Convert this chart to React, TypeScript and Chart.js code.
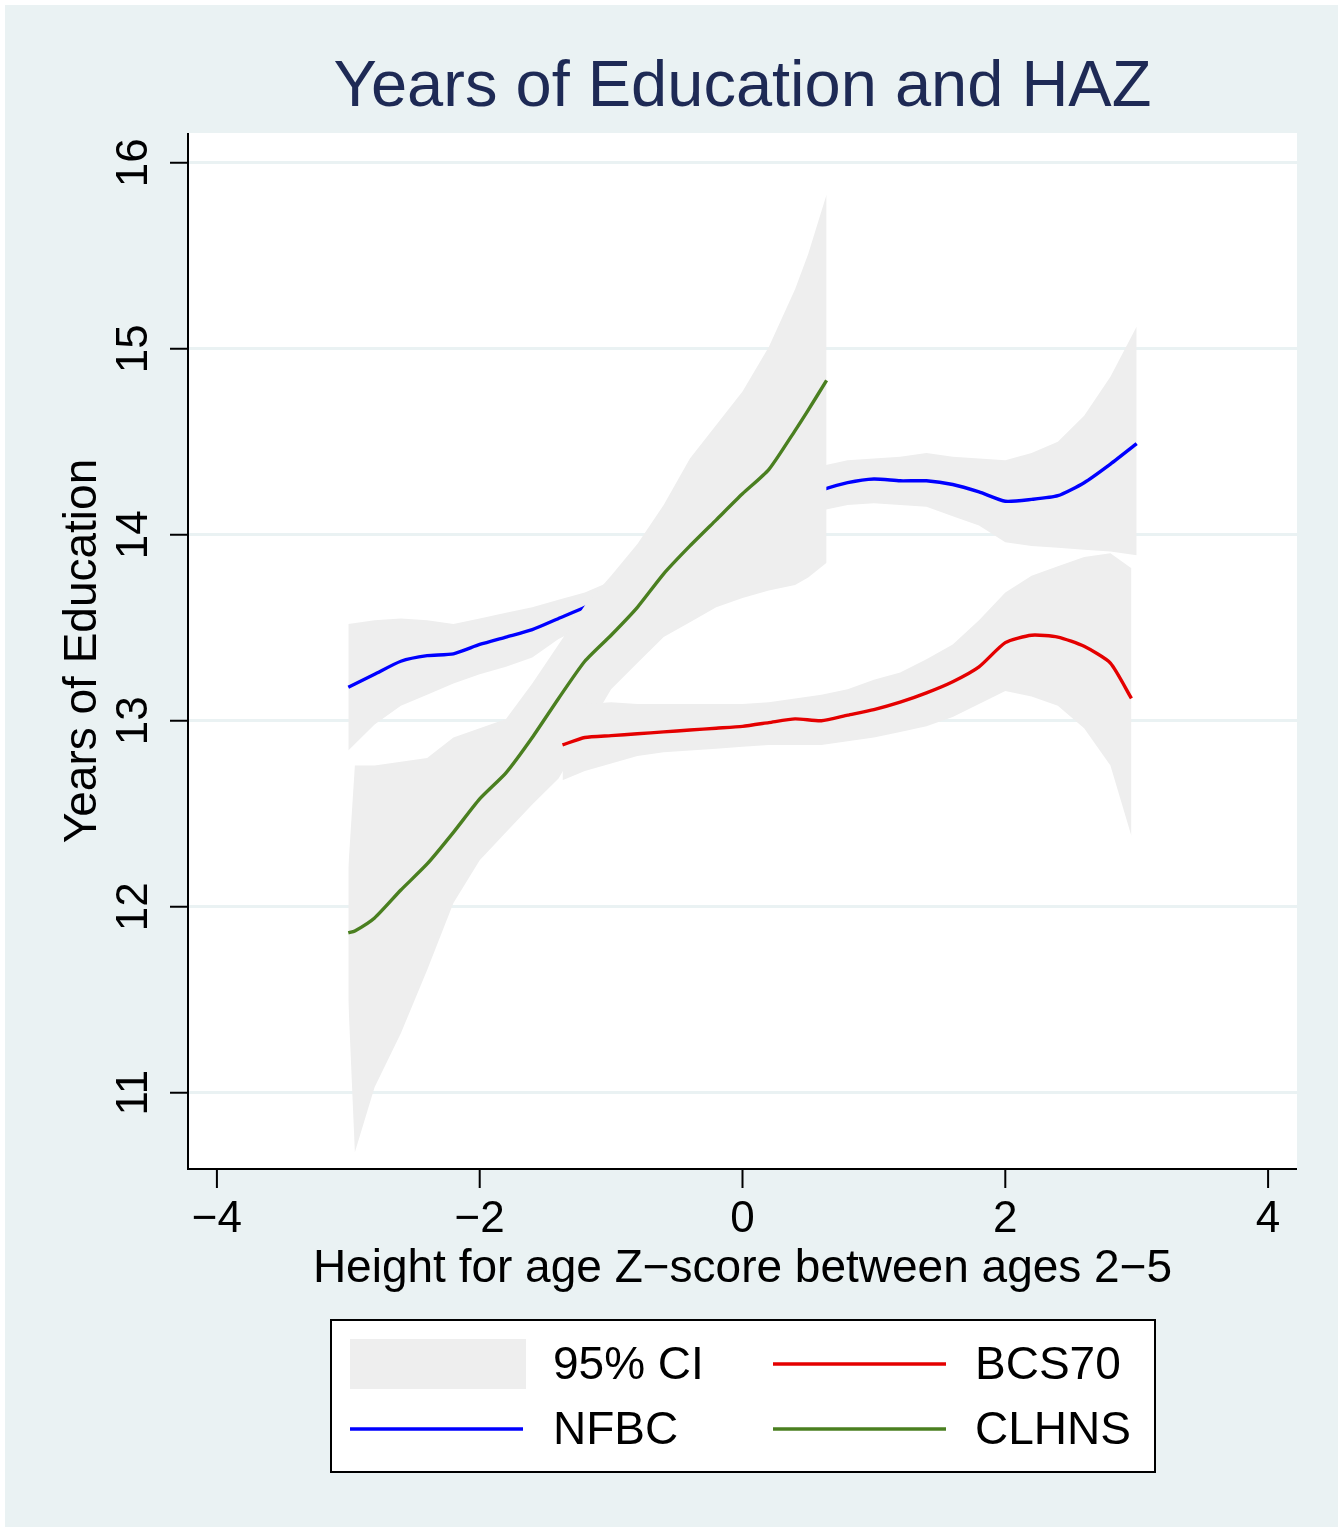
import React, { useEffect, useRef } from "react";
import { Chart, registerables } from "chart.js";

Chart.register(...registerables);

// ---------- Data ----------
// NFBC (Finland)
const nfbcX = [-3.0, -2.8, -2.6, -2.4, -2.2, -2.0, -1.8, -1.6, -1.4, -1.2, -1.0, -0.8, -0.6, -0.4, -0.2, 0, 0.2, 0.4, 0.6, 0.8, 1.0, 1.2, 1.4, 1.6, 1.8, 2.0, 2.2, 2.4, 2.6, 2.8, 3.0];
const nfbcFit = [13.18, 13.25, 13.32, 13.35, 13.36, 13.41, 13.45, 13.49, 13.55, 13.61, 13.68, 13.75, 13.82, 13.9, 13.98, 14.05, 14.12, 14.19, 14.24, 14.28, 14.3, 14.29, 14.29, 14.27, 14.23, 14.18, 14.19, 14.21, 14.28, 14.38, 14.49];
const nfbcHi = [13.52, 13.54, 13.55, 13.54, 13.52, 13.55, 13.58, 13.61, 13.65, 13.69, 13.75, 13.82, 13.89, 13.97, 14.05, 14.13, 14.21, 14.3, 14.37, 14.4, 14.41, 14.42, 14.44, 14.42, 14.41, 14.4, 14.44, 14.5, 14.64, 14.85, 15.12];
const nfbcLo = [12.84, 12.98, 13.08, 13.14, 13.2, 13.25, 13.29, 13.34, 13.44, 13.51, 13.58, 13.65, 13.72, 13.8, 13.88, 13.95, 14.02, 14.08, 14.13, 14.16, 14.17, 14.16, 14.15, 14.1, 14.05, 13.96, 13.94, 13.93, 13.92, 13.91, 13.89];

// CLHNS (Philippines)
const clhnsX = [-3.0, -2.95, -2.8, -2.6, -2.4, -2.2, -2.0, -1.8, -1.6, -1.4, -1.2, -1.0, -0.8, -0.6, -0.4, -0.2, 0, 0.2, 0.4, 0.5, 0.64];
const clhnsFit = [11.86, 11.87, 11.94, 12.09, 12.23, 12.4, 12.58, 12.72, 12.91, 13.12, 13.32, 13.46, 13.61, 13.79, 13.94, 14.08, 14.22, 14.35, 14.56, 14.67, 14.83];
const clhnsHi = [12.21, 12.76, 12.76, 12.78, 12.8, 12.91, 12.96, 13.01, 13.2, 13.41, 13.62, 13.78, 13.95, 14.16, 14.41, 14.59, 14.77, 15.01, 15.32, 15.51, 15.83];
const clhnsLo = [11.5, 10.68, 11.03, 11.32, 11.66, 12.02, 12.25, 12.4, 12.55, 12.69, 12.93, 13.17, 13.31, 13.45, 13.53, 13.61, 13.66, 13.7, 13.73, 13.77, 13.85];

// BCS70 (UK)
const bcsX = [-1.37, -1.2, -1.0, -0.8, -0.6, -0.4, -0.2, 0, 0.2, 0.4, 0.6, 0.8, 1.0, 1.2, 1.4, 1.6, 1.8, 2.0, 2.2, 2.4, 2.6, 2.8, 2.96];
const bcsFit = [12.87, 12.91, 12.92, 12.93, 12.94, 12.95, 12.96, 12.97, 12.99, 13.01, 13.0, 13.03, 13.06, 13.1, 13.15, 13.21, 13.29, 13.42, 13.46, 13.45, 13.4, 13.31, 13.12];
const bcsHi = [13.09, 13.09, 13.1, 13.09, 13.09, 13.09, 13.09, 13.09, 13.1, 13.12, 13.14, 13.17, 13.22, 13.26, 13.33, 13.41, 13.54, 13.69, 13.78, 13.83, 13.88, 13.9, 13.82];
const bcsLo = [12.68, 12.73, 12.77, 12.81, 12.83, 12.84, 12.85, 12.86, 12.87, 12.87, 12.87, 12.89, 12.91, 12.94, 12.97, 13.02, 13.09, 13.16, 13.13, 13.08, 12.96, 12.76, 12.38];

// Axes
const xTicks = [-4, -2, 0, 2, 4];
const yTicks = [11, 12, 13, 14, 15, 16];
const xRange = [-4.22, 4.22];
const yRange = [10.59, 16.16];

// Text
const titleText = "Years of Education and HAZ";
const xTitle = "Height for age Z\u2212score between ages 2\u22125";
const yTitle = "Years of Education";
const legendItems = [
  { label: "95% CI", kind: "band", color: "#EEEEEE" },
  { label: "BCS70", kind: "line", color: "#E40000" },
  { label: "NFBC", kind: "line", color: "#0000FF" },
  { label: "CLHNS", kind: "line", color: "#4A7F20" },
];

const FONT = '"Liberation Sans", Arial, Helvetica, sans-serif';
const BG = "#EAF2F3";
const BAND = "#EEEEEE";
const BLUE = "#0000FF";
const RED = "#E40000";
const GREEN = "#4A7F20";

const pts = (xs: number[], ys: number[]) => xs.map((x, i) => ({ x, y: ys[i] }));
const fmt = (v: number) => (v < 0 ? "\u2212" + Math.abs(v) : String(v));

export default function App() {
  const ref = useRef<HTMLCanvasElement>(null);

  useEffect(() => {
    document.body.style.margin = "0";
    const canvas = ref.current!;

    const band = (data: any, fill: any, order: number) => ({
      data,
      fill,
      order,
      backgroundColor: BAND,
      borderColor: "rgba(0,0,0,0)",
      borderWidth: 0,
      pointRadius: 0,
      pointHoverRadius: 0,
    });
    const line = (data: any, color: string, order: number) => ({
      data,
      fill: false,
      order,
      borderColor: color,
      backgroundColor: color,
      borderWidth: 3.4,
      pointRadius: 0,
      pointHoverRadius: 0,
      tension: 0.2,
      borderJoinStyle: "round",
      borderCapStyle: "butt",
    });

    const decor = {
      id: "stataDecor",
      beforeDraw(chart: any) {
        const { ctx, chartArea: a } = chart;
        ctx.save();
        ctx.fillStyle = "#FFFFFF";
        ctx.fillRect(0, 0, chart.width, chart.height);
        ctx.fillStyle = BG;
        ctx.fillRect(5, 5, chart.width - 8, chart.height - 8);
        ctx.fillStyle = "#FFFFFF";
        ctx.fillRect(a.left, a.top, a.right - a.left, a.bottom - a.top);
        ctx.restore();
      },
      afterDraw(chart: any) {
        const { ctx, chartArea: a } = chart;
        const xs = chart.scales.x;
        const ys = chart.scales.y;
        ctx.save();
        // axis lines
        ctx.strokeStyle = "#000";
        ctx.lineWidth = 2;
        ctx.beginPath();
        ctx.moveTo(a.left, a.top);
        ctx.lineTo(a.left, a.bottom);
        ctx.lineTo(a.right, a.bottom);
        ctx.stroke();
        // y ticks + labels (rotated)
        ctx.fillStyle = "#000";
        ctx.font = `44px ${FONT}`;
        ctx.textAlign = "center";
        ctx.textBaseline = "alphabetic";
        for (const v of yTicks) {
          const p = ys.getPixelForValue(v);
          ctx.beginPath();
          ctx.moveTo(a.left - 18, p);
          ctx.lineTo(a.left, p);
          ctx.stroke();
          ctx.save();
          ctx.translate(147, p);
          ctx.rotate(-Math.PI / 2);
          ctx.fillText(String(v), 0, 0);
          ctx.restore();
        }
        // x ticks + labels
        for (const v of xTicks) {
          const p = xs.getPixelForValue(v);
          ctx.beginPath();
          ctx.moveTo(p, a.bottom);
          ctx.lineTo(p, a.bottom + 19);
          ctx.stroke();
          ctx.fillText(fmt(v), p, 1232);
        }
        // axis titles
        ctx.font = `46px ${FONT}`;
        ctx.fillText(xTitle, (a.left + a.right) / 2, 1282);
        ctx.save();
        ctx.translate(96, (a.top + a.bottom) / 2);
        ctx.rotate(-Math.PI / 2);
        ctx.fillText(yTitle, 0, 0);
        ctx.restore();
        // title
        ctx.fillStyle = "#1E2A55";
        ctx.font = `65px ${FONT}`;
        ctx.fillText(titleText, (a.left + a.right) / 2, 106);
        // legend box
        const L = { x: 331, y: 1320, w: 824, h: 152 };
        ctx.fillStyle = "#FFFFFF";
        ctx.fillRect(L.x, L.y, L.w, L.h);
        ctx.strokeStyle = "#000";
        ctx.lineWidth = 2;
        ctx.strokeRect(L.x, L.y, L.w, L.h);
        const cols = [350, 773];
        const textCols = [553, 975];
        const rows = [1364, 1429];
        ctx.font = `46px ${FONT}`;
        ctx.textAlign = "left";
        ctx.textBaseline = "middle";
        legendItems.forEach((it, i) => {
          const c = i % 2;
          const r = Math.floor(i / 2);
          const cy = rows[r];
          if (it.kind === "band") {
            ctx.fillStyle = it.color;
            ctx.fillRect(cols[c], cy - 25, 176, 50);
          } else {
            ctx.strokeStyle = it.color;
            ctx.lineWidth = 3.5;
            ctx.beginPath();
            ctx.moveTo(cols[c], cy);
            ctx.lineTo(cols[c] + 173, cy);
            ctx.stroke();
          }
          ctx.fillStyle = "#000";
          ctx.fillText(it.label, textCols[c], cy + 2);
        });
        ctx.restore();
      },
    };

    const chart = new Chart(canvas, {
      type: "line",
      data: {
        datasets: [
          band(pts(nfbcX, nfbcHi), "+1", 6),
          band(pts(nfbcX, nfbcLo), false, 6),
          line(pts(nfbcX, nfbcFit), BLUE, 5),
          band(pts(clhnsX, clhnsHi), "+1", 4),
          band(pts(clhnsX, clhnsLo), false, 4),
          band(pts(bcsX, bcsHi), "+1", 3),
          band(pts(bcsX, bcsLo), false, 3),
          line(pts(bcsX, bcsFit), RED, 2),
          line(pts(clhnsX, clhnsFit), GREEN, 1),
        ] as any,
      },
      options: {
        responsive: false,
        animation: false,
        events: [],
        layout: { padding: { left: 188, top: 133, right: 44, bottom: 361 } },
        plugins: {
          legend: { display: false },
          tooltip: { enabled: false },
          title: { display: false },
        },
        scales: {
          x: {
            type: "linear",
            min: xRange[0],
            max: xRange[1],
            ticks: { display: false },
            grid: { display: false },
            border: { display: false },
            afterFit: (s: any) => {
              s.height = 0;
            },
          },
          y: {
            type: "linear",
            min: yRange[0],
            max: yRange[1],
            ticks: { display: false, stepSize: 1, includeBounds: false },
            grid: { color: BG, lineWidth: 3, drawTicks: false },
            border: { display: false },
            afterFit: (s: any) => {
              s.width = 0;
            },
          },
        },
      } as any,
      plugins: [decor],
    });
    return () => chart.destroy();
  }, []);

  return (
    <canvas
      ref={ref}
      width={1341}
      height={1530}
      style={{ display: "block", width: 1341, height: 1530 }}
    />
  );
}
